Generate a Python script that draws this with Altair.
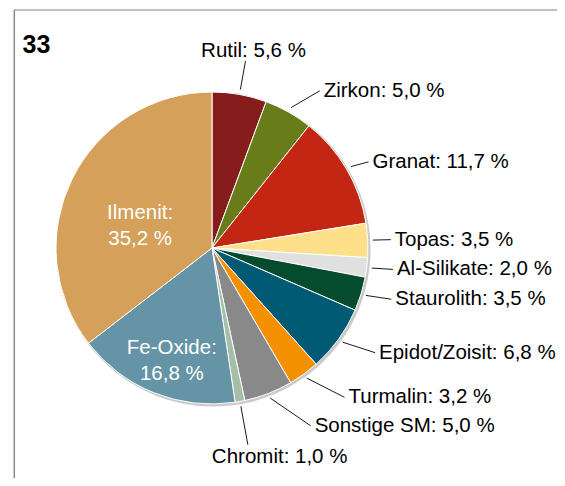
import math
import altair as alt
import pandas as pd

# ---- data ----
minerals = ["Rutil", "Zirkon", "Granat", "Topas", "Al-Silikate", "Staurolith",
            "Epidot/Zoisit", "Turmalin", "Sonstige SM", "Chromit", "Fe-Oxide", "Ilmenit"]
shares = [5.6, 5.0, 11.7, 3.5, 2.0, 3.5, 6.8, 3.2, 5.0, 1.0, 16.8, 35.2]
colors = ["#861C1C", "#687D1A", "#C42614", "#FFE08A", "#E0E0E0", "#054B2D",
          "#005A73", "#F59100", "#898989", "#A5BEAA", "#6494A5", "#D4A05A"]
inside_labels = ["Fe-Oxide", "Ilmenit"]
chart_title = "33"

# ---- layout / style ----
FONT = "Liberation Sans"
FS = 20.5
W, H = 549, 470
CX, CY, R = 204, 240, 156
R_START = 161


def fmt(v):
    return f"{v:.1f}".replace(".", ",") + " %"


total = sum(shares)
rows = []
cum = 0.0
for i, (m, v) in enumerate(zip(minerals, shares)):
    mid = (cum + v / 2) / total * 360.0
    cum += v
    rows.append(dict(idx=i, mineral=m, share=v, mid=mid))
df = pd.DataFrame(rows)

leaders, right_lbl, top_lbl, bottom_lbl, in_lbl = [], [], [], [], []
for r in rows:
    a = r["mid"]
    ar = math.radians(a)
    txt = f"{r['mineral']}: {fmt(r['share'])}"
    if r["mineral"] in inside_labels:
        frac = r["share"] / total
        rr = R * (0.85 - 0.95 * frac)
        in_lbl.append(dict(tx=CX + rr * math.sin(ar), ty=CY - rr * math.cos(ar),
                           text=f"{r['mineral']}:\n{fmt(r['share'])}"))
        continue
    sx, sy = CX + R_START * math.sin(ar), CY - R_START * math.cos(ar)
    if a < 20:
        ex, ey = CX + 190 * math.sin(ar), CY - 190 * math.cos(ar)
        top_lbl.append(dict(tx=ex + 8, ty=ey - 4, text=txt))
    elif a > 160:
        ex, ey = CX + 200 * math.sin(ar), CY - 200 * math.cos(ar)
        bottom_lbl.append(dict(tx=ex - 36, ty=ey + 2, text=txt))
    else:
        d = math.radians(90 + 0.5 * (a - 90))
        ln = 18 + 0.45 * max(0, a - 90) + 0.5 * max(0, 60 - a)
        ex, ey = sx + ln * math.sin(d), sy - ln * math.cos(d)
        right_lbl.append(dict(tx=ex + 4, ty=ey, text=txt))
    leaders.append(dict(x1=sx, y1=sy, x2=ex, y2=ey))

df_lead = pd.DataFrame(leaders)

color_scale = alt.Scale(domain=minerals, range=colors)

shadow = alt.Chart(df).mark_arc(outerRadius=R + 1, color="#bdbdbd", opacity=0.8).encode(
    theta=alt.Theta("share:Q", stack=True),
    order=alt.Order("idx:Q"),
    x=alt.value(CX + 1.5), y=alt.value(CY + 1.5),
)

pie = alt.Chart(df).mark_arc(outerRadius=R, stroke="white", strokeWidth=1).encode(
    theta=alt.Theta("share:Q", stack=True),
    order=alt.Order("idx:Q"),
    color=alt.Color("mineral:N", scale=color_scale, legend=None),
    x=alt.value(CX), y=alt.value(CY),
)

lead = alt.Chart(df_lead).mark_rule(color="#1a1a1a", strokeWidth=1).encode(
    x=alt.X("x1:Q", scale=None, axis=None), y=alt.Y("y1:Q", scale=None, axis=None),
    x2="x2:Q", y2="y2:Q",
)


def text_layer(data, **kw):
    return alt.Chart(pd.DataFrame(data)).mark_text(font=FONT, fontSize=FS, **kw).encode(
        x=alt.X("tx:Q", scale=None, axis=None),
        y=alt.Y("ty:Q", scale=None, axis=None),
        text="text:N",
    )


t_right = text_layer(right_lbl, align="left", baseline="middle", color="#000000")
t_top = text_layer(top_lbl, align="center", baseline="alphabetic", color="#000000")
t_bottom = text_layer(bottom_lbl, align="left", baseline="top", color="#000000")
t_in = text_layer(in_lbl, align="center", baseline="middle", color="#ffffff",
                  lineBreak="\n", lineHeight=26)

one = pd.DataFrame({"t": [chart_title]})
frame_top = alt.Chart(one).mark_rule(color="#ababab", strokeWidth=1.5).encode(
    x=alt.value(6), x2=alt.value(W), y=alt.value(2))
frame_left = alt.Chart(one).mark_rule(color="#8c8c8c", strokeWidth=1.5).encode(
    x=alt.value(6.3), y=alt.value(2), y2=alt.value(H))
title = alt.Chart(one).mark_text(font=FONT, fontSize=25, fontWeight="bold",
                                 align="left", baseline="alphabetic", color="#000000").encode(
    text="t:N", x=alt.value(14.5), y=alt.value(44.7))

chart = alt.layer(
    frame_top, frame_left, shadow, pie, lead, t_right, t_top, t_bottom, t_in, title
).properties(
    width=W, height=H, padding=0, autosize=alt.AutoSizeParams(type="none"),
    background="white",
).configure_view(stroke=None)

chart.save("out.html", embed_options={"renderer": "svg", "actions": False})
